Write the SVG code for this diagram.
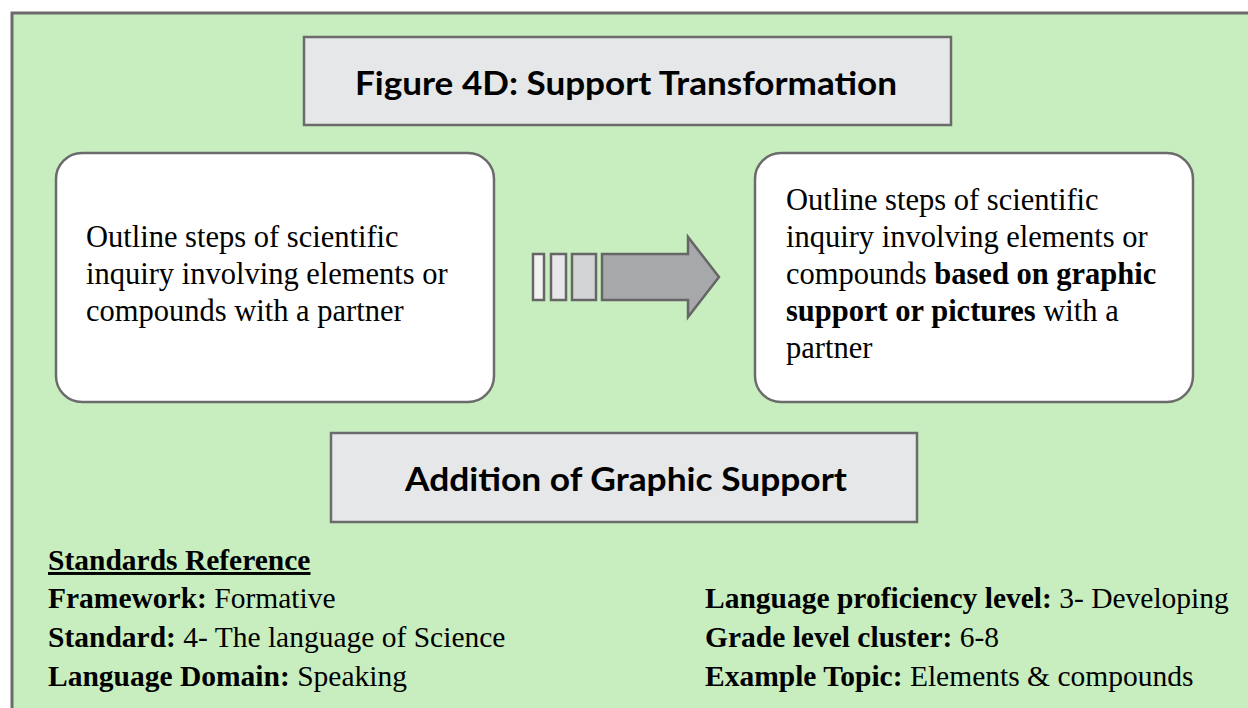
<svg xmlns="http://www.w3.org/2000/svg" width="1248" height="708" viewBox="0 0 1248 708">
<style>
.panel{fill:#c8eec0;stroke:#6b6b6b;stroke-width:3}
.hdr{fill:#e6e7e9;stroke:#6b6b6b;stroke-width:2.5}
.card{fill:#ffffff;stroke:#6b6b6b;stroke-width:2.5}
.ttl{font-family:Lato,"Open Sans",sans-serif;font-weight:bold;font-size:33px;fill:#000;text-anchor:middle}
.body{font-family:"Liberation Serif","Times New Roman",serif;font-size:30.5px;fill:#000}
.sm{font-family:"Liberation Serif","Times New Roman",serif;font-size:29.5px;fill:#000}
.b{font-weight:bold}
.arr{stroke:#666;stroke-width:2.5;stroke-linejoin:miter}
</style>
<rect width="1248" height="708" fill="#ffffff"/>
<rect class="panel" x="12" y="13" width="1250" height="710"/>
<g id="title">
<rect class="hdr" x="304" y="37" width="647" height="88"/>
<text class="ttl" x="626" y="95" textLength="542" lengthAdjust="spacingAndGlyphs">Figure 4D: Support Transformation</text>
</g>
<g id="left-box">
<rect class="card" x="56" y="153" width="438" height="249" rx="26"/>
<text class="body"><tspan x="86" y="247">Outline steps of scientific</tspan><tspan x="86" y="284">inquiry involving elements or</tspan><tspan x="86" y="321">compounds with a partner</tspan></text>
</g>
<g id="connectors">
<rect class="arr" x="533" y="254" width="11" height="46" fill="#f2f2f2"/>
<rect class="arr" x="551" y="254" width="15" height="46" fill="#e6e7e9"/>
<rect class="arr" x="572" y="254" width="24" height="46" fill="#d3d4d6"/>
<polygon class="arr" points="602,254 688,254 688,237 719,277 688,317 688,300 602,300" fill="#a7a8aa"/>
</g>
<g id="right-box">
<rect class="card" x="755" y="153" width="438" height="249" rx="26"/>
<text class="body"><tspan x="786" y="210">Outline steps of scientific</tspan><tspan x="786" y="247">inquiry involving elements or</tspan><tspan x="786" y="284">compounds <tspan class="b">based on graphic</tspan></tspan><tspan x="786" y="321"><tspan class="b">support or pictures</tspan> with a</tspan><tspan x="786" y="358">partner</tspan></text>
</g>
<g id="subtitle">
<rect class="hdr" x="331" y="433" width="586" height="89"/>
<text class="ttl" x="626" y="491" textLength="442" lengthAdjust="spacingAndGlyphs">Addition of Graphic Support</text>
</g>
<g id="standards">
<text class="sm b" x="48" y="570" text-decoration="underline">Standards Reference</text>
<text class="sm" x="48" y="608"><tspan class="b">Framework:</tspan> Formative</text>
<text class="sm" x="48" y="647"><tspan class="b">Standard:</tspan> 4- The language of Science</text>
<text class="sm" x="48" y="686"><tspan class="b">Language Domain:</tspan> Speaking</text>
<text class="sm" x="705" y="608"><tspan class="b">Language proficiency level:</tspan> 3- Developing</text>
<text class="sm" x="705" y="647"><tspan class="b">Grade level cluster:</tspan> 6-8</text>
<text class="sm" x="705" y="686"><tspan class="b">Example Topic:</tspan> Elements &amp; compounds</text>
</g>
</svg>
